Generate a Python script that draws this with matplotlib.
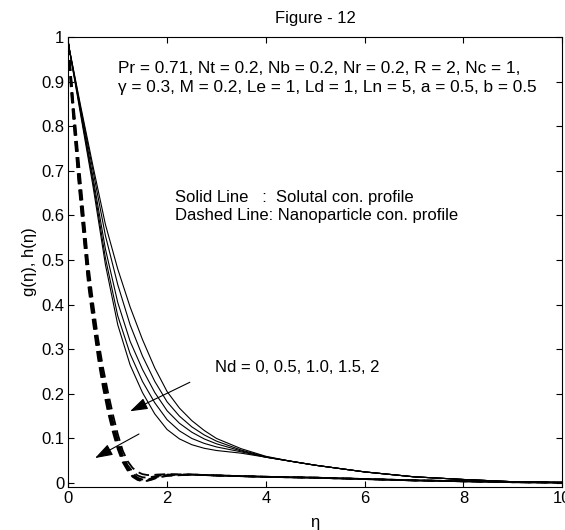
import numpy as np
import matplotlib
matplotlib.use('Agg')
import matplotlib.pyplot as plt

plt.rcParams['font.family'] = ['Liberation Sans', 'DejaVu Sans']

# solutal concentration g(eta), one list per Nd value
eta_g = [0, 0.25, 0.5, 0.75, 1.0, 1.25, 1.5, 1.75, 2.0, 2.25, 2.5, 2.75, 3.0, 3.5,
         4.0, 4.5, 5, 6, 7, 8, 9, 10]
g_nd0 = [0.985, 0.845, 0.71, 0.58, 0.48, 0.395, 0.322, 0.258, 0.205, 0.168, 0.14, 0.118,
         0.10, 0.077, 0.060, 0.049, 0.040, 0.025, 0.014, 0.008, 0.003, 0.001]
g_nd05 = [0.985, 0.84, 0.70, 0.555, 0.445, 0.355, 0.285, 0.228, 0.182, 0.150, 0.126,
          0.108, 0.094, 0.074, 0.059, 0.049, 0.040, 0.025, 0.014, 0.008, 0.003, 0.001]
g_nd1 = [0.985, 0.835, 0.685, 0.525, 0.405, 0.318, 0.255, 0.203, 0.162, 0.134, 0.114,
         0.099, 0.088, 0.072, 0.058, 0.049, 0.040, 0.025, 0.014, 0.008, 0.003, 0.001]
g_nd15 = [0.985, 0.83, 0.675, 0.505, 0.375, 0.29, 0.228, 0.18, 0.142, 0.117, 0.100,
          0.089, 0.081, 0.070, 0.058, 0.049, 0.040, 0.025, 0.014, 0.008, 0.003, 0.001]
g_nd2 = [0.985, 0.825, 0.665, 0.49, 0.355, 0.265, 0.203, 0.155, 0.120, 0.099, 0.086,
         0.078, 0.073, 0.067, 0.058, 0.049, 0.040, 0.025, 0.014, 0.008, 0.003, 0.001]

# nanoparticle concentration h(eta)
eta_h = [0, 0.05, 0.1, 0.2, 0.3, 0.4, 0.5, 0.6, 0.7, 0.8, 0.9, 1.0, 1.1, 1.2, 1.3, 1.4,
         1.5, 1.6, 1.7, 1.8, 2.0, 2.5, 3, 4, 5, 6, 7, 8, 9, 10]
h_nd0 = [0.985, 0.92, 0.855, 0.735, 0.615, 0.495, 0.405, 0.325, 0.26, 0.205, 0.155, 0.11,
         0.073, 0.049, 0.034, 0.025, 0.02, 0.018, 0.018, 0.019, 0.02, 0.019, 0.017, 0.014,
         0.012, 0.009, 0.006, 0.004, 0.002, 0.001]
h_nd05 = [0.985, 0.915, 0.845, 0.72, 0.60, 0.48, 0.39, 0.31, 0.245, 0.19, 0.14, 0.097,
          0.063, 0.04, 0.026, 0.017, 0.013, 0.012, 0.014, 0.016, 0.019, 0.019, 0.017,
          0.014, 0.012, 0.009, 0.006, 0.004, 0.002, 0.001]
h_nd1 = [0.985, 0.905, 0.835, 0.705, 0.585, 0.47, 0.38, 0.30, 0.235, 0.18, 0.13, 0.089,
         0.056, 0.035, 0.021, 0.012, 0.008, 0.008, 0.011, 0.014, 0.018, 0.019, 0.017,
         0.014, 0.012, 0.009, 0.006, 0.004, 0.002, 0.001]
h_nd15 = [0.985, 0.895, 0.825, 0.69, 0.57, 0.455, 0.37, 0.29, 0.225, 0.17, 0.122, 0.082,
          0.051, 0.031, 0.017, 0.009, 0.005, 0.006, 0.009, 0.013, 0.017, 0.019, 0.017,
          0.014, 0.012, 0.009, 0.006, 0.004, 0.002, 0.001]
h_nd2 = [0.985, 0.885, 0.815, 0.68, 0.56, 0.445, 0.36, 0.28, 0.215, 0.16, 0.115, 0.076,
         0.047, 0.028, 0.014, 0.007, 0.004, 0.005, 0.008, 0.012, 0.016, 0.019, 0.017,
         0.014, 0.012, 0.009, 0.006, 0.004, 0.002, 0.001]

xticks = [0, 2, 4, 6, 8, 10]
yticks = [0, 0.1, 0.2, 0.3, 0.4, 0.5, 0.6, 0.7, 0.8, 0.9, 1]
ylabels = ['0', '0.1', '0.2', '0.3', '0.4', '0.5', '0.6', '0.7', '0.8', '0.9', '1']

fig = plt.figure(figsize=(5.65, 5.3), dpi=100)
ax = fig.add_axes([0.121, 0.081, 0.874, 0.849])

for g in [g_nd0, g_nd05, g_nd1, g_nd15, g_nd2]:
    ax.plot(eta_g, g, color='k', lw=0.8)
for h in [h_nd0, h_nd05, h_nd1, h_nd15, h_nd2]:
    ax.plot(eta_h, h, color='k', lw=1.3, dashes=(6, 3))

ax.set_xlim(0, 10)
ax.set_ylim(-0.009, 1)
ax.set_xticks(xticks)
ax.set_xticklabels([str(t) for t in xticks])
ax.set_yticks(yticks)
ax.set_yticklabels(ylabels)
ax.tick_params(direction='in', top=True, right=True, length=4, width=0.8,
               labelsize=12, pad=3)
for s in ax.spines.values():
    s.set_linewidth(0.8)

fs = 12
ax.set_title('Figure - 12', fontsize=fs, pad=10)
ax.set_xlabel('η', fontsize=fs, labelpad=6)
ax.set_ylabel('g(η), h(η)', fontsize=fs, labelpad=3)

ax.text(1.0, 0.93, 'Pr = 0.71, Nt = 0.2, Nb = 0.2, Nr = 0.2, R = 2, Nc = 1,',
        fontsize=12.4, va='center')
ax.text(1.0, 0.886, 'γ = 0.3, M = 0.2, Le = 1, Ld = 1, Ln = 5, a = 0.5, b = 0.5',
        fontsize=12.4, va='center')
ax.text(2.16, 0.641, 'Solid Line   :  Solutal con. profile', fontsize=fs, va='center')
ax.text(2.16, 0.599, 'Dashed Line: Nanoparticle con. profile', fontsize=fs, va='center')
ax.text(2.97, 0.26, 'Nd = 0, 0.5, 1.0, 1.5, 2', fontsize=fs, va='center')

arrow = dict(arrowstyle='-|>,head_length=0.9,head_width=0.3', lw=0.8, color='k',
             shrinkA=0, shrinkB=0, mutation_scale=12)
ax.annotate('', xy=(1.25, 0.161), xytext=(2.46, 0.226), arrowprops=arrow)
ax.annotate('', xy=(0.54, 0.056), xytext=(1.43, 0.11), arrowprops=arrow)

fig.savefig('out.png', dpi=100)
